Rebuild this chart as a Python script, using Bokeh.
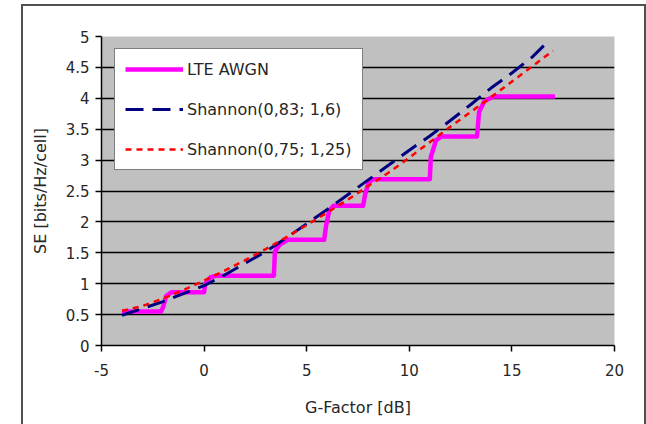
from bokeh.plotting import figure
from bokeh.models import (Range1d, FixedTicker, Legend, LegendItem, Label, CustomJSTickFormatter)
from bokeh.embed import file_html
from bokeh.resources import INLINE

# LTE AWGN link-level curve (stepwise)
lte_x = [-4.0, -2.1, -2.0, -1.85, -1.6, 0.0, 0.05, 0.3, 0.6, 3.4, 3.45, 3.7, 4.1,
         5.85, 5.95, 6.1, 6.3, 7.75, 7.85, 8.0, 8.2, 11.0, 11.05, 11.3, 11.55,
         13.3, 13.4, 13.65, 14.1, 17.1]
lte_y = [0.55, 0.55, 0.62, 0.80, 0.86, 0.86, 1.00, 1.10, 1.13, 1.13, 1.52, 1.64, 1.71,
         1.71, 1.95, 2.18, 2.26, 2.26, 2.45, 2.62, 2.69, 2.69, 3.05, 3.32, 3.38,
         3.38, 3.78, 3.95, 4.03, 4.03]

# Shannon(0,83; 1,6)
sh1_x = [-4, -3, -2, -1, 0, 1, 2, 3, 4, 5, 6, 7, 8, 9, 10, 11, 12, 13, 14, 15, 16, 16.7]
sh1_y = [0.49, 0.60, 0.71, 0.84, 0.97, 1.14, 1.33, 1.52, 1.74, 1.97, 2.20, 2.44, 2.68,
         2.92, 3.16, 3.39, 3.64, 3.90, 4.17, 4.41, 4.67, 4.90]

# Shannon(0,75; 1,25)
sh2_x = [-4, -3, -2, -1, 0, 1, 2, 3, 4, 5, 6, 7, 8, 9, 10, 11, 12, 13, 14, 15, 16, 17]
sh2_y = [0.56, 0.64, 0.76, 0.90, 1.05, 1.21, 1.38, 1.56, 1.75, 1.95, 2.15, 2.36, 2.58,
         2.80, 3.04, 3.29, 3.54, 3.78, 4.02, 4.27, 4.52, 4.77]

x_ticks = [-5, 0, 5, 10, 15, 20]
y_ticks = [0, 0.5, 1, 1.5, 2, 2.5, 3, 3.5, 4, 4.5, 5]
grid_ticks = [0.5, 1, 1.5, 2, 2.5, 3, 3.5, 4, 4.5]

FONT = "DejaVu Sans"
TXT = "#262626"
FRAME = "#505050"

p = figure(width=646, height=424, output_backend="svg", toolbar_location=None,
           x_range=Range1d(-5, 20), y_range=Range1d(0, 5),
           min_border_left=101, min_border_right=32, min_border_top=36, min_border_bottom=79)
p.background_fill_color = "#c0c0c0"
p.border_fill_color = None
p.outline_line_color = None
# outer chart-area border (drawn behind the transparent canvas, open at the bottom)
p.styles = {
    "background-color": "white",
    "background-image": ("linear-gradient(%s,%s), linear-gradient(%s,%s), linear-gradient(%s,%s)"
                         % (FRAME, FRAME, FRAME, FRAME, FRAME, FRAME)),
    "background-size": "2px 440px, 625px 2px, 2px 440px",
    "background-position": "21px 4px, 21px 4px, 644px 4px",
    "background-repeat": "no-repeat",
}

p.xgrid.visible = False
p.ygrid.ticker = FixedTicker(ticks=grid_ticks)
p.ygrid.grid_line_color = "black"
p.ygrid.grid_line_width = 1.5

for ax in (p.xaxis[0], p.yaxis[0]):
    ax.axis_line_color = "black"
    ax.axis_line_width = 1.5
    ax.major_tick_line_color = "black"
    ax.major_tick_line_width = 1.5
    ax.major_tick_in = 0
    ax.major_tick_out = 6
    ax.minor_tick_line_color = None
    ax.major_label_text_font = FONT
    ax.major_label_text_font_size = "15px"
    ax.major_label_text_color = TXT
    ax.axis_label_text_font = FONT
    ax.axis_label_text_font_size = "16px"
    ax.axis_label_text_font_style = "normal"
    ax.axis_label_text_color = TXT

p.xaxis.ticker = FixedTicker(ticks=x_ticks)
p.yaxis.ticker = FixedTicker(ticks=y_ticks)
p.xaxis.formatter = CustomJSTickFormatter(code="return String(tick);")
p.xaxis.major_label_standoff = 12
p.yaxis.major_label_standoff = 6
p.xaxis.axis_label = "G-Factor [dB]"
p.yaxis.axis_label = "SE [bits/Hz/cell]"
p.xaxis.axis_label_standoff = 19
p.yaxis.axis_label_standoff = 13

r_lte = p.line(lte_x, lte_y, line_color="#ff00ff", line_width=4.5, line_join="round")
r_sh1 = p.line(sh1_x, sh1_y, line_color="#000080", line_width=3, line_dash="18 9")
r_sh2 = p.line(sh2_x, sh2_y, line_color="#ff0000", line_width=2.5, line_dash="6 5")

legend = Legend(items=[LegendItem(label="LTE AWGN", renderers=[r_lte]),
                       LegendItem(label="Shannon(0,83; 1,6)", renderers=[r_sh1]),
                       LegendItem(label="Shannon(0,75; 1,25)", renderers=[r_sh2])],
                location=(13, 175), orientation="vertical",
                glyph_width=58, glyph_height=20, label_standoff=4, spacing=20,
                padding=10, margin=0,
                label_text_font=FONT, label_text_font_size="16px", label_text_color=TXT,
                border_line_color="black", border_line_width=1.5,
                background_fill_color="white", background_fill_alpha=1.0)
p.add_layout(legend, "center")

# stray blue letter at the far left edge of the picture
p.add_layout(Label(x=-100, y=-33, x_units="screen", y_units="screen", text="C",
                   text_font=FONT, text_font_size="28px", text_color="#1f62b0",
                   text_align="left", text_baseline="middle"))

open("out.html", "w").write(file_html(p, INLINE))
